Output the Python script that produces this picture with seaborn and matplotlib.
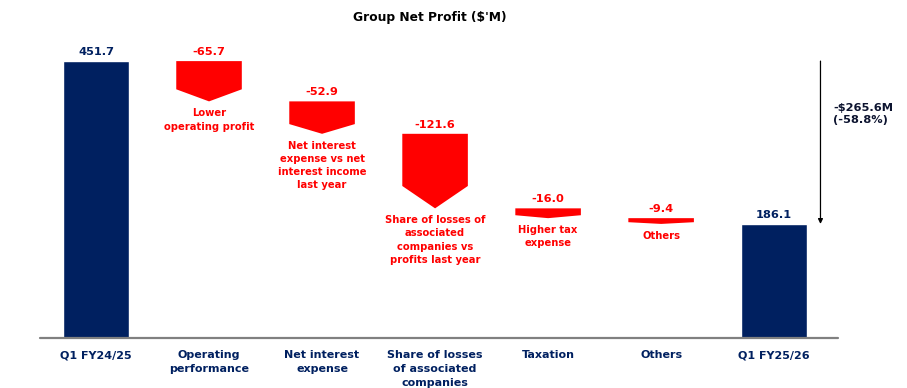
import numpy as np
import matplotlib
matplotlib.use('agg')
import matplotlib.pyplot as plt
from matplotlib.patches import Polygon
import seaborn as sns

# -----------------------------
# data
# -----------------------------
categories = ['Q1 FY24/25', 'Operating\nperformance', 'Net interest\nexpense',
              'Share of losses\nof associated\ncompanies', 'Taxation', 'Others',
              'Q1 FY25/26']
start_value = 451.7
end_value = 186.1
deltas = [-65.7, -52.9, -121.6, -16.0, -9.4]
delta_notes = ['Lower\noperating profit',
               'Net interest\nexpense vs net\ninterest income\nlast year',
               'Share of losses of\nassociated\ncompanies vs\nprofits last year',
               'Higher tax\nexpense',
               'Others']
change_text = '-\\$265.6M\n(-58.8%)'
title = "Group Net Profit (\\$'M)"

NAVY = '#002060'
RED = '#ff0000'

sns.set_theme(style='white')
plt.rcParams['font.family'] = ['DejaVu Sans']

fig = plt.figure(figsize=(9.07, 3.88), dpi=100)
ax = fig.add_axes([39.5 / 907, 50 / 388, (838 - 39.5) / 907, 306.5 / 388])

# totals via seaborn
sns.barplot(x=[categories[0], categories[-1]], y=[start_value, end_value],
            order=categories, color=NAVY, saturation=1, width=0.58, ax=ax)

for i, v in [(0, start_value), (len(categories) - 1, end_value)]:
    ax.annotate(f'{v:.1f}', (i, v), xytext=(0, 3), textcoords='offset points',
                ha='center', va='bottom', color=NAVY, fontsize=8.2,
                fontweight='bold')

# red downward arrows for each change
level = start_value
half_w = 0.29
for k, d in enumerate(deltas):
    x = k + 1
    top = level
    bottom = level + d
    corner = top + 0.7 * d
    poly = Polygon([(x - half_w, top), (x + half_w, top), (x + half_w, corner),
                    (x, bottom), (x - half_w, corner)],
                   closed=True, facecolor=RED, edgecolor='none')
    ax.add_patch(poly)
    ax.annotate(f'{d:.1f}', (x, top), xytext=(0, 3), textcoords='offset points',
                ha='center', va='bottom', color=RED, fontsize=8.2,
                fontweight='bold')
    ax.annotate(delta_notes[k], (x, bottom), xytext=(0, -5),
                textcoords='offset points', ha='center', va='top', color=RED,
                fontsize=7.2, fontweight='bold', linespacing=1.4)
    level = bottom

# overall change arrow
ax.annotate('', xy=(6.41, end_value), xytext=(6.41, start_value),
            arrowprops=dict(arrowstyle='-|>', color='black', lw=0.9,
                            mutation_scale=7, shrinkA=0, shrinkB=0),
            annotation_clip=False)
ax.text(6.52, (start_value + end_value) / 2 + 47, change_text, ha='left',
        va='center', color='#0d1430', fontsize=8.2, fontweight='bold',
        linespacing=1.3, clip_on=False)

ax.set_xlim(-0.5, 6.565)
ax.set_ylim(0, 500)
ax.set_yticks([])
ax.set_xlabel('')
ax.set_ylabel('')
for s in ax.spines.values():
    s.set_visible(False)
ax.axhline(0, color='#808080', lw=1.6, clip_on=False)

ax.tick_params(axis='x', length=0, pad=9)
ax.set_xticks(range(len(categories)))
ax.set_xticklabels(categories, color=NAVY, fontsize=8, fontweight='bold',
                   linespacing=1.5, va='top')

fig.text(430 / 907, 1 - 17 / 388, title, ha='center',
         va='center', color='black', fontsize=8.8, fontweight='bold')

fig.savefig('out.png', dpi=100)
